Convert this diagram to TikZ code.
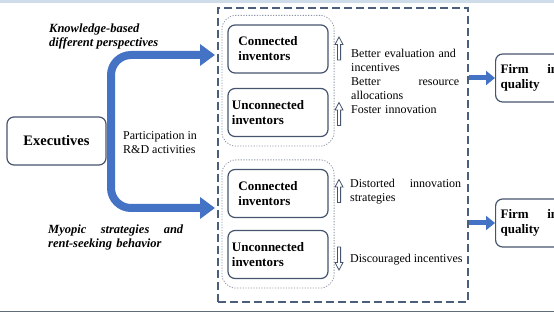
\documentclass[tikz,border=0pt]{standalone}
\usepackage{fontspec}
\setmainfont{Liberation Serif}
\usepackage{tikz}
\usetikzlibrary{arrows.meta,positioning,fit,calc}
\definecolor{flow}{RGB}{68,114,196}
\definecolor{slate}{RGB}{70,85,110}
\definecolor{dotgrey}{RGB}{140,150,165}
\definecolor{frameblue}{RGB}{75,95,125}
\definecolor{sky}{RGB}{205,220,232}
\definecolor{steel}{RGB}{95,108,120}

\begin{document}
\begin{tikzpicture}[x=1pt,y=-1pt,font=\fontsize{12}{14}\selectfont,
	invbox/.style={draw=slate,line width=1.2pt,rounded corners=7pt,align=left,
		inner sep=0pt,font=\fontsize{13}{15}\selectfont\bfseries},
	invname/.style={invbox,minimum width=100pt,minimum height=48pt,
		label={[inner sep=0pt,align=left,xshift=-10pt,font=\fontsize{13}{15}\selectfont\bfseries]center:#1}},
	dotgroup/.style={draw=dotgrey,line width=0.8pt,dash pattern=on 1.2pt off 1.5pt,
		rounded corners=14pt,inner xsep=5.5pt,inner ysep=9pt},
	dashframe/.style={draw=frameblue,line width=1.3pt,dash pattern=on 8pt off 4pt},
	bigarrow/.style={flow,line width=8pt,rounded corners=20pt,
		-{Triangle[length=15pt,width=21pt]}},
	smallarrow/.style={flow,line width=5pt,-{Triangle[length=9pt,width=14pt]}},
	hollowarrow/.style={draw=slate,line width=0.8pt,line join=miter},
	note/.style={inner sep=0pt,align=left,anchor=north west},
	slant/.style={note,font=\fontsize{12.5}{14.5}\selectfont\bfseries\itshape}]
	\useasboundingbox (0,0) rectangle (554,312);
	\clip (0,0) rectangle (554,312);
	%% frame of the figure
	\fill[sky] (0,0) rectangle (554,3.5);
	\fill[steel] (0,310.5) rectangle (554,312);
	
	%% executives
	\node[invbox,minimum width=99pt,minimum height=48pt,
		font=\fontsize{14.5}{16}\selectfont\bfseries] (exec) at (56.5,141) {Executives};
	\node[note] (partic) at (123,131) {Participation in\\R\&D activities};
	
	%% inventors
	\node[invname={Connected\\inventors}] (conup) at (278,49) {};
	\node[invname={Unconnected\\inventors}] (unconup) at (278,112.5) {};
	\node[invname={Connected\\inventors}] (condown) at (278,193.5) {};
	\node[invname={Unconnected\\inventors}] (uncondown) at (278,254.5) {};
	\node[dotgroup,fit=(conup)(unconup)] (groupup) {};
	\node[dotgroup,fit=(condown)(uncondown)] (groupdown) {};
	\node[dashframe,minimum width=250pt,minimum height=294pt] (mech) at (343,155) {};
	
	%% two channels
	\coordinate (split) at (111,141);
	\coordinate (tipup) at (215,55);
	\coordinate (tipdown) at (215,208);
	\draw[bigarrow] (split) |- (tipup);
	\draw[bigarrow] (split) |- (tipdown);
	\node[slant] (know) at (49,23.6) {Knowledge-based\\different perspectives};
	\node[slant,text width=135pt] (myopic) at (48,224.3) {Myopic\hfill strategies\hfill and\\rent-seeking behavior};
	
	%% hollow arrows: up or down
	\foreach \x/\y/\s in {339/48.5/1,339/114/1,339/191/1,339/258.5/-1}
	\draw[hollowarrow,shift={(\x,\y)},yscale=\s] (-1.6,11.5) -- (-1.6,-4) -- (-4,-4)
		-- (0,-11.5) -- (4,-4) -- (1.6,-4) -- (1.6,11.5) -- cycle;
	\node[note,text width=108pt] (effup) at (351,49) {Better evaluation and\\incentives\\Better\hfill resource\\allocations\\Foster innovation};
	\node[note,text width=111pt] (distort) at (350,178.5) {Distorted\hfill innovation\\strategies};
	\node[note] (discour) at (350,253.5) {Discouraged incentives};
	
	%% outcome
	\node[invbox,text width=106pt,inner xsep=5pt,minimum height=48pt,anchor=west] (firmup) at (495,78) {Firm\hfill innovation\\quality};
	\node[invbox,text width=106pt,inner xsep=5pt,minimum height=48pt,anchor=west] (firmdown) at (495,223) {Firm\hfill innovation\\quality};
	\draw[smallarrow] (mech.east |- firmup) -- (firmup);
	\draw[smallarrow] (mech.east |- firmdown) -- (firmdown);
\end{tikzpicture}
\end{document}
